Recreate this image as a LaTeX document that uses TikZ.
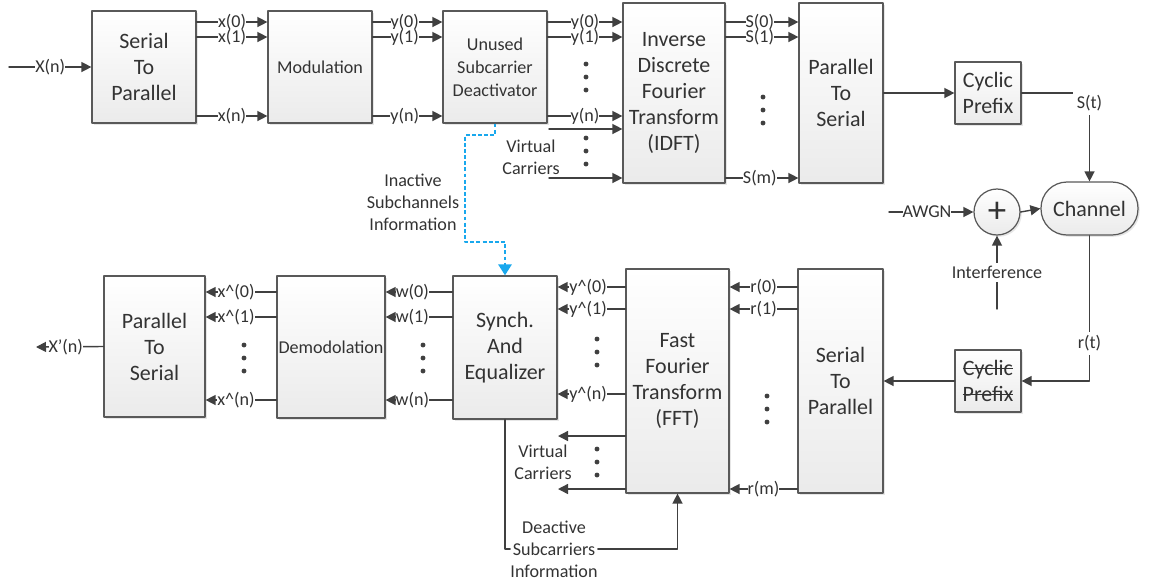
\documentclass[tikz,border=0pt]{standalone}
\usepackage{fontspec}
\setmainfont{Carlito}
\usetikzlibrary{arrows.meta,shadows}
\definecolor{lncol}{rgb}{0.25,0.25,0.25}
\definecolor{bdcol}{rgb}{0.35,0.35,0.35}
\definecolor{txcol}{rgb}{0.2,0.2,0.2}
\definecolor{ddcol}{rgb}{0.1,0.66,0.93}
\newcommand{\strikeword}[1]{\setbox0\hbox{#1}\rlap{\raisebox{0.3em}{\rule{\wd0}{0.55pt}}}\box0}
\tikzset{
  blk/.style={draw=bdcol,line width=0.7pt,top color=white,bottom color=black!8,
    drop shadow={shadow xshift=1pt,shadow yshift=-1pt,opacity=0.2},
    text=txcol,align=center,inner sep=0pt,font=\fontsize{12.5}{14.8}\selectfont},
  blks/.style={blk,font=\fontsize{10.3}{13}\selectfont},
  sig/.style={draw=lncol,line width=0.8pt,-{Triangle[length=2mm,width=2mm]}},
  wire/.style={draw=lncol,line width=0.8pt},
  lbl/.style={fill=white,inner sep=0pt,text=txcol,font=\fontsize{10.3}{12}\selectfont},
  note/.style={text=txcol,align=center,inner sep=0pt,font=\fontsize{10.3}{12.6}\selectfont},
}
\begin{document}
\begin{tikzpicture}[line cap=round,line join=round,x=0.02cm,y=-0.02cm]
\useasboundingbox (0,0) rectangle (1150,586);
\node[blk,minimum width=2.08cm,minimum height=2.24cm] (stp) at (144,67) {Serial\\To\\Parallel};
\node[blks,minimum width=2.08cm,minimum height=2.24cm] (mod) at (320,67) {Modulation};
\node[blks,minimum width=2.08cm,minimum height=2.24cm] (usd) at (495,67) {Unused\\Subcarrier\\Deactivator};
\node[blk,minimum width=2.04cm,minimum height=3.6cm] (idft) at (674,93) {Inverse\\Discrete\\Fourier\\Transform\\(IDFT)};
\node[blk,minimum width=1.68cm,minimum height=3.6cm] (pts) at (841,93) {Parallel\\To\\Serial};
\node[blk,minimum width=1.32cm,minimum height=1.24cm] (cp) at (988,93) {Cyclic\\Prefix};
\node[blk,circle,minimum size=0.92cm] (add) at (997,212) {\fontsize{21}{21}\selectfont +};
\node[blk,rounded corners=0.52cm,minimum width=1.94cm,minimum height=1.06cm] (chan) at (1089.5,208.5) {Channel};
\node[blk,minimum width=1.32cm,minimum height=1.24cm] (rcp) at (988,381) {\strikeword{Cyclic}\\\strikeword{Prefix}};
\node[blk,minimum width=1.7cm,minimum height=4.48cm] (stpr) at (840.5,381) {Serial\\To\\Parallel};
\node[blk,minimum width=2.06cm,minimum height=4.48cm] (fft) at (677.5,381) {Fast\\Fourier\\Transform\\(FFT)};
\node[blk,minimum width=2.08cm,minimum height=2.86cm] (sync) at (505,347.5) {Synch.\\And\\Equalizer};
\node[blks,minimum width=2.16cm,minimum height=2.84cm] (demod) at (331,347) {Demodolation};
\node[blk,minimum width=2.02cm,minimum height=2.82cm] (ptsr) at (154.5,346.5) {Parallel\\To\\Serial};
\coordinate (xin) at (9,67);
\coordinate (xout) at (36,347);
\coordinate (vc1) at (549,129);
\coordinate (vc2) at (549,178);
\coordinate (vc3) at (558,436);
\coordinate (vc4) at (558,489);
\coordinate (awgn) at (889,212);
\coordinate (intf) at (997,309);
\draw[sig] (xin) -- node[lbl] {X(n)} (stp.west);
\draw[sig] (stp.east |- 0,22) -- node[lbl] {x(0)} (mod.west |- 0,22);
\draw[sig] (stp.east |- 0,37) -- node[lbl] {x(1)} (mod.west |- 0,37);
\draw[sig] (stp.east |- 0,116) -- node[lbl] {x(n)} (mod.west |- 0,116);
\draw[sig] (mod.east |- 0,22) -- node[lbl,pos=0.46] {y(0)} (usd.west |- 0,22);
\draw[sig] (mod.east |- 0,37) -- node[lbl,pos=0.46] {y(1)} (usd.west |- 0,37);
\draw[sig] (mod.east |- 0,116) -- node[lbl,pos=0.46] {y(n)} (usd.west |- 0,116);
\draw[sig] (usd.east |- 0,22) -- node[lbl] {y(0)} (idft.west |- 0,22);
\draw[sig] (usd.east |- 0,37) -- node[lbl] {y(1)} (idft.west |- 0,37);
\draw[sig] (usd.east |- 0,116) -- node[lbl] {y(n)} (idft.west |- 0,116);
\draw[sig] (vc1) -- (idft.west |- vc1);
\draw[sig] (vc2) -- (idft.west |- vc2);
\node[note] (vct) at (531,157) {Virtual\\Carriers};
\draw[sig] (idft.east |- 0,22) -- node[lbl,pos=0.47] {S(0)} (pts.west |- 0,22);
\draw[sig] (idft.east |- 0,37) -- node[lbl,pos=0.47] {S(1)} (pts.west |- 0,37);
\draw[sig] (idft.east |- 0,178) -- node[lbl,pos=0.47] {S(m)} (pts.west |- 0,178);
\draw[sig] (pts.east |- cp.west) -- (cp.west);
\draw[sig] (cp.east) -| node[lbl,pos=0.56,inner sep=2pt] {S(t)} (chan.north);
\draw[sig] (awgn) -- node[lbl,pos=0.45] {AWGN} (add.west);
\draw[sig] (intf) -- node[lbl,inner sep=2pt] {Interference} (add.south);
\draw[sig] (add.east) -- (chan.west);
\draw[sig] (chan.south) |- node[lbl,pos=0.37,inner sep=2pt] {r(t)} (rcp.east);
\draw[sig] (rcp.west) -- (stpr.east |- rcp.west);
\draw[sig] (stpr.west |- 0,287) -- node[lbl] {r(0)} (fft.east |- 0,287);
\draw[sig] (stpr.west |- 0,309) -- node[lbl] {r(1)} (fft.east |- 0,309);
\draw[sig] (stpr.west |- 0,489) -- node[lbl] {r(m)} (fft.east |- 0,489);
\draw[sig] (fft.west |- 0,287) -- node[lbl,pos=0.55] {y\textasciicircum(0)} (sync.east |- 0,287);
\draw[sig] (fft.west |- 0,309) -- node[lbl,pos=0.55] {y\textasciicircum(1)} (sync.east |- 0,309);
\draw[sig] (fft.west |- 0,394) -- node[lbl,pos=0.55] {y\textasciicircum(n)} (sync.east |- 0,394);
\draw[sig] (fft.west |- vc3) -- (vc3);
\draw[sig] (fft.west |- vc4) -- (vc4);
\node[note] (vcb) at (543,462) {Virtual\\Carriers};
\draw[sig] (sync.west |- 0,292) -- node[lbl,pos=0.6] {w(0)} (demod.east |- 0,292);
\draw[sig] (sync.west |- 0,317) -- node[lbl,pos=0.6] {w(1)} (demod.east |- 0,317);
\draw[sig] (sync.west |- 0,400) -- node[lbl,pos=0.6] {w(n)} (demod.east |- 0,400);
\draw[sig] (demod.west |- 0,292) -- node[lbl,pos=0.57] {x\textasciicircum(0)} (ptsr.east |- 0,292);
\draw[sig] (demod.west |- 0,317) -- node[lbl,pos=0.57] {x\textasciicircum(1)} (ptsr.east |- 0,317);
\draw[sig] (demod.west |- 0,400) -- node[lbl,pos=0.57] {x\textasciicircum(n)} (ptsr.east |- 0,400);
\draw[sig] (ptsr.west) -- node[lbl,pos=0.56] {X'(n)} (xout);
\node[note] (dsi) at (554,549) {Deactive\\Subcarriers\\Information};
\draw[wire] (sync.south) |- (dsi.west);
\draw[sig] (dsi.east) -| (fft.south);
\node[note] (isi) at (413,202) {Inactive\\Subchannels\\Information};
\draw[ddcol,line width=1.5pt,line cap=butt,dash pattern=on 2.2pt off 1.3pt,-{Triangle[length=2.2mm,width=2.6mm]}] (usd.south) -- (usd.south |- 0,135) -| (465,242) -| (sync.north);
\foreach \x/\y in {586/64,586/138,763/97,244/345,423/345,597/339,597/449,767/396}
  \foreach \k in {0,1,2}
    \fill[lncol] (\x,\y+13*\k) circle (1.4pt);
\end{tikzpicture}
\end{document}
